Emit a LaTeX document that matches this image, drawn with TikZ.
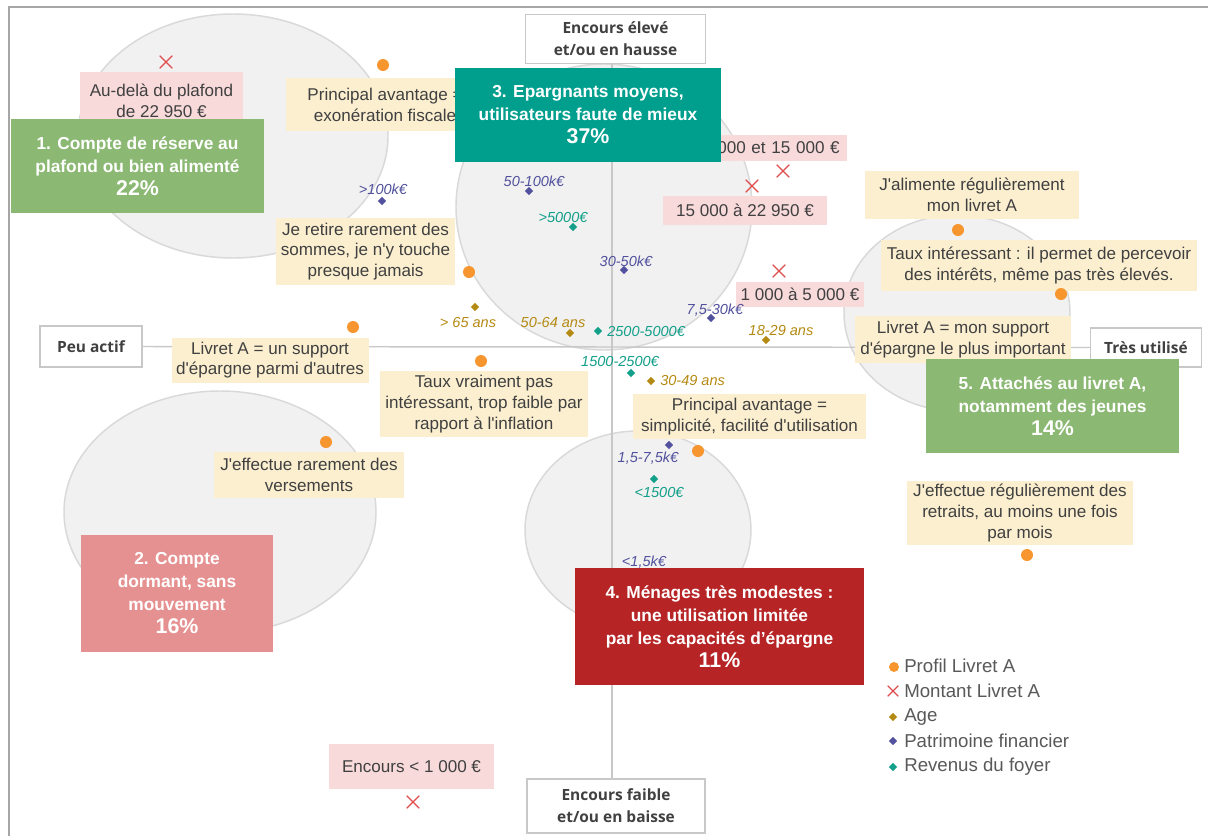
\documentclass[tikz,border=0pt]{standalone}
\usepackage{fontspec}
\setmainfont{Liberation Sans}[Ligatures=TeXOff]
\newfontfamily\axisfont{Open Sans}
\usetikzlibrary{shapes.geometric,shapes.misc}
\definecolor{txt}{HTML}{404040}
\definecolor{legt}{HTML}{595959}
\definecolor{ellf}{HTML}{F1F1F1}
\definecolor{elld}{HTML}{D9D9D9}
\definecolor{axd}{HTML}{C8C8C8}
\definecolor{frm}{HTML}{A6A6A6}
\definecolor{yel}{HTML}{FBEFD0}
\definecolor{pnk}{HTML}{F8DADB}
\definecolor{org}{HTML}{F7962F}
\definecolor{xred}{HTML}{E04B4B}
\definecolor{gold}{HTML}{B58A12}
\definecolor{purp}{HTML}{52519E}
\definecolor{teal}{HTML}{13A08A}
\definecolor{gA}{HTML}{8BB872}
\definecolor{gB}{HTML}{E69191}
\definecolor{gC}{HTML}{009F8D}
\definecolor{gD}{HTML}{B72426}
\tikzset{
  px/.style 2 args={minimum width=#1*0.75pt, minimum height=#2*0.75pt},
  ell/.style={fill=ellf, draw=elld, line width=1.1pt},
  axisbox/.style={draw=axd, fill=white, line width=1pt, inner sep=0, align=center, text=txt,
    font=\axisfont\bfseries\fontsize{11.6}{16.5}\selectfont},
  axl/.style={draw=axd, line width=1.1pt},
  ybox/.style={fill=yel, inner sep=0, align=center, text=txt, font=\fontsize{12.8}{15.6}\selectfont},
  pbox/.style={ybox, fill=pnk},
  grp/.style={inner sep=0, align=center, text=white, font=\bfseries\fontsize{13}{17.25}\selectfont},
  dot/.style={circle, fill=org, inner sep=0, minimum size=9pt},
  xm/.style={cross out, draw=xred, line width=0.9pt, inner sep=0, minimum size=8.5pt},
  dia/.style={diamond, fill=#1, inner sep=0, minimum size=6.5pt},
  ital/.style={text=#1, font=\itshape\fontsize{10.9}{12}\selectfont, inner sep=0},
  leg/.style={anchor=west, text=legt, font=\fontsize{14}{16}\selectfont, inner sep=0},
}
\begin{document}
\begin{tikzpicture}[x=0.75pt,y=-0.75pt]
\useasboundingbox (0,0) rectangle (1208,836);
\fill[white] (0,0) rectangle (1208,836);
% frame
\draw[frm, line width=1.6pt] (9,836) -- (9,7) -- (1208,7);
% ellipses
\draw[ell] (233,136) ellipse [x radius=155, y radius=122];
\draw[ell] (220,512) ellipse [x radius=156, y radius=121];
\draw[ell] (604,207) ellipse [x radius=148, y radius=143];
\draw[ell] (638,530) ellipse [x radius=113, y radius=99];
\draw[ell] (957,313) ellipse [x radius=113, y radius=98];
% axis boxes
\node[axisbox, px={180}{49}] (top) at (615.5,39) {Encours élevé\\et/ou en hausse};
\node[axisbox, px={178}{54}] (bot) at (616,806) {Encours faible\\et/ou en baisse};
\node[axisbox, px={102}{41}] (peu) at (91,346.5) {Peu actif};
\node[axisbox, px={111}{39}] (tres) at (1146,347.5) {Très utilisé};
\coordinate (ax) at (612,346);
\draw[axl] (top.south -| ax) -- (bot.north -| ax);
\draw[axl] (peu.east) -- (tres.west);
% yellow boxes
\node[ybox, px={198}{53}] (b1) at (385,104.5) {Principal avantage =\\exonération fiscale};
\node[ybox, px={179}{67}] (b2) at (365.5,251.5) {Je retire rarement des\\sommes, je n'y touche\\presque jamais};
\node[ybox, px={197}{45}] (b3) at (270,360) {Livret A = un support\\d'épargne parmi d'autres};
\node[ybox, px={208}{66}] (b4) at (484,404) {Taux vraiment pas\\intéressant, trop faible par\\rapport à l'inflation};
\node[ybox, px={233}{45}] (b5) at (749.5,416.5) {Principal avantage =\\simplicité, facilité d'utilisation};
\node[ybox, px={190}{46}] (b6) at (309,475) {J'effectue rarement des\\versements};
\node[ybox, px={214}{48}] (b7) at (972,195) {J'alimente régulièrement\\mon livret A};
\node[ybox, px={316}{51}] (b8) at (1039,265.5) {Taux intéressant : il permet de percevoir\\des intérêts, même pas très élevés.};
\node[ybox, px={216}{47}] (b9) at (963,339.5) {Livret A = mon support\\d'épargne le plus important};
\node[ybox, px={226}{64}] (b10) at (1020,513) {J'effectue régulièrement des\\retraits, au moins une fois\\par mois};
% pink boxes
\node[pbox, px={163}{58}] (m1) at (161.5,101) {Au-delà du plafond\\de 22 950 €};
\node[pbox, anchor=east, text width=136*0.75pt, align=right, inner xsep=5.25pt, minimum height=26*0.75pt] (m2) at (847,148) {000 et 15 000 €};
\node[pbox, px={164}{29}] (m3) at (745,210.5) {15 000 à 22 950 €};
\node[pbox, px={128}{25}] (m4) at (800,294.5) {1 000 à 5 000 €};
\node[pbox, px={165}{45}] (m5) at (411.5,766.5) {Encours < 1 000 €};
% orange dots
\node[dot] (d1) at (383,65) {};
\node[dot] (d2) at (469,272) {};
\node[dot] (d3) at (353,327) {};
\node[dot] (d4) at (481,361) {};
\node[dot] (d5) at (326,442) {};
\node[dot] (d6) at (698,451) {};
\node[dot] (d7) at (958,230) {};
\node[dot] (d8) at (1061,294) {};
\node[dot] (d9) at (1027,555) {};
% crosses
\node[xm] (x1) at (166,62) {};
\node[xm] (x2) at (783,171) {};
\node[xm] (x3) at (752,186) {};
\node[xm] (x4) at (779,271) {};
\node[xm] (x5) at (413,802) {};
% age (gold)
\node[dia=gold] (a1) at (475,307) {};
\node[ital=gold] (a1t) at (468,322) {> 65 ans};
\node[dia=gold] (a2) at (570,333) {};
\node[ital=gold] (a2t) at (553,322) {50-64 ans};
\node[dia=gold] (a3) at (766,340) {};
\node[ital=gold] (a3t) at (781,330) {18-29 ans};
\node[dia=gold] (a4) at (651,381) {};
\node[ital=gold, anchor=west] (a4t) at (660,380) {30-49 ans};
% patrimoine (purple)
\node[dia=purp] (p1) at (382,201) {};
\node[ital=purp] (p1t) at (383,189) {>100k€};
\node[dia=purp] (p2) at (529,191) {};
\node[ital=purp] (p2t) at (534,181) {50-100k€};
\node[dia=purp] (p3) at (624,270) {};
\node[ital=purp] (p3t) at (626,261) {30-50k€};
\node[dia=purp] (p4) at (711,318) {};
\node[ital=purp] (p4t) at (715,310) {7,5-30k€};
\node[dia=purp] (p5) at (669,445) {};
\node[ital=purp] (p5t) at (648,458) {1,5-7,5k€};
\node[ital=purp] (p6t) at (644,562) {<1,5k€};
% revenus (teal)
\node[dia=teal] (r1) at (573,227) {};
\node[ital=teal] (r1t) at (563,217) {>5000€};
\node[dia=teal] (r2) at (598,331) {};
\node[ital=teal, anchor=west] (r2t) at (607,331) {2500-5000€};
\node[dia=teal] (r3) at (631,373) {};
\node[ital=teal] (r3t) at (620,361) {1500-2500€};
\node[dia=teal] (r4) at (654,479) {};
\node[ital=teal] (r4t) at (659,492) {<1500€};
% group boxes
\node[grp, fill=gA, px={253}{94}] (g1) at (137.5,166) {1. Compte de réserve au\\plafond ou bien alimenté\\{\fontsize{16}{19.5}\selectfont 22\%}};
\node[grp, fill=gB, px={192}{117}] (g2) at (177,593.5) {2. Compte\\dormant, sans\\mouvement\\{\fontsize{16}{19.5}\selectfont 16\%}};
\node[grp, fill=gC, px={266}{94}] (g3) at (588,115) {3. Epargnants moyens,\\utilisateurs faute de mieux\\{\fontsize{16}{19.5}\selectfont 37\%}};
\node[grp, fill=gD, px={289}{117}] (g4) at (719.5,626.5) {4. Ménages très modestes :\\une utilisation limitée\\par les capacités d’épargne\\{\fontsize{16}{19.5}\selectfont 11\%}};
\node[grp, fill=gA, px={253}{94}] (g5) at (1052.5,406) {5. Attachés au livret A,\\notamment des jeunes\\{\fontsize{16}{19.5}\selectfont 14\%}};
% legend
\node[dot, minimum size=7.5pt] (l1) at (894,667) {};
\node[leg] (l1t) at (904,666) {Profil Livret A};
\node[xm, minimum size=7pt] (l2) at (893,691) {};
\node[leg] (l2t) at (904,691) {Montant Livret A};
\node[dia=gold] (l3) at (893,717) {};
\node[leg] (l3t) at (904,717) {Age};
\node[dia=purp] (l4) at (893,741) {};
\node[leg] (l4t) at (904,741) {Patrimoine financier};
\node[dia=teal] (l5) at (893,767) {};
\node[leg] (l5t) at (904,767) {Revenus du foyer};
\end{tikzpicture}
\end{document}
